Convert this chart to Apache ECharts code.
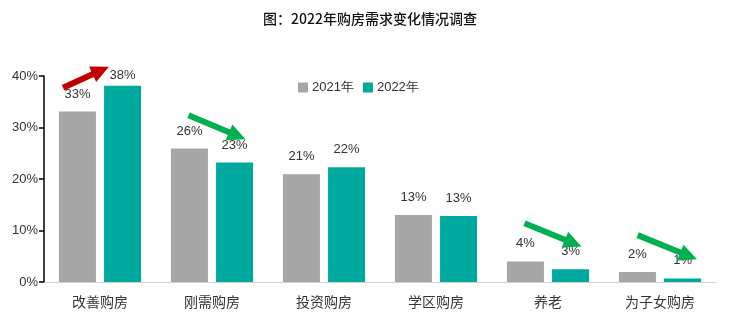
<!DOCTYPE html>
<html><head><meta charset="utf-8">
<script src="https://cdn.jsdelivr.net/npm/echarts@6/dist/echarts.min.js"></script>
<style>html,body{margin:0;padding:0;background:#fff}#c{width:740px;height:331px}</style>
</head><body><div id="c"></div>
<script>
const categories = ['改善购房','刚需购房','投资购房','学区购房','养老','为子女购房'];
const values2021 = [33.1, 25.9, 20.9, 13.0, 4.0, 1.95];
const values2022 = [38.1, 23.2, 22.3, 12.8, 2.5, 0.7];
const yTicks = [0, 10, 20, 30, 40];
const seriesNames = ['2021年', '2022年'];
// arrows: [fromCategoryPosition, fromValue, toCategoryPosition, toValue, colour]
const arrows = [
  [-0.33, 37.7, 0.08, 41.8, '#C00000'],
  [0.79, 32.4, 1.30, 27.7, '#00B050'],
  [3.79, 11.4, 4.30, 6.9, '#00B050'],
  [4.80, 9.1, 5.33, 4.4, '#00B050']
];

const chart = echarts.init(document.getElementById('c'));
const numFont = 'Liberation Sans, Arial, sans-serif';
function mkData(arr){
  return arr.map((v,i)=> (v === 38.1) ? {value:v, label:{distance:4}} : v);
}
const labelCfg = {show:true, position:'top', distance:11, color:'#333', fontSize:13, fontFamily:numFont,
  formatter: p => Math.round(p.value) + '%'};
chart.setOption({
  animation:false,
  title:{text:'图：2022年购房需求变化情况调查', left:'center', top:7,
    textStyle:{fontSize:14, fontWeight:500, color:'#111', fontFamily:'Noto Sans CJK SC, sans-serif'}},
  legend:{left:293, top:76, itemWidth:10, itemHeight:10, itemGap:9, icon:'rect',
    textStyle:{fontSize:13, color:'#333', fontFamily:numFont, padding:[0,0,0,-1]},
    data:seriesNames},
  grid:{left:44, right:24, top:76, bottom:49},
  xAxis:{type:'category', data:categories,
    axisLine:{lineStyle:{color:'#d4d4d4', width:1}}, axisTick:{show:false},
    axisLabel:{color:'#333', fontSize:14, margin:13, fontFamily:'Noto Sans CJK SC, sans-serif'}},
  yAxis:{type:'value', min:yTicks[0], max:yTicks[yTicks.length-1], interval:yTicks[1]-yTicks[0],
    splitLine:{show:false},
    axisLine:{show:true, lineStyle:{color:'#000', width:1.5}},
    axisTick:{show:true, length:5, lineStyle:{color:'#000', width:1.5}},
    axisLabel:{formatter:'{value}%', color:'#333', fontSize:13, margin:6, fontFamily:numFont}},
  series:[
    {name:seriesNames[0], type:'bar', data:mkData(values2021), barWidth:37, barGap:'22%',
     itemStyle:{color:'#A6A6A6'}, label:labelCfg},
    {name:seriesNames[1], type:'bar', data:mkData(values2022), barWidth:37,
     itemStyle:{color:'#00A99D'}, label:labelCfg}
  ]
});

function arrowPoly(p0, p1, shaft, headLen, headW){
  const dx=p1[0]-p0[0], dy=p1[1]-p0[1];
  const L=Math.sqrt(dx*dx+dy*dy); const ux=dx/L, uy=dy/L; const nx=-uy, ny=ux;
  const bx=p1[0]-ux*headLen, by=p1[1]-uy*headLen;
  const s=shaft/2, h=headW/2;
  return [
    [p0[0]+nx*s, p0[1]+ny*s], [bx+nx*s, by+ny*s], [bx+nx*h, by+ny*h], p1,
    [bx-nx*h, by-ny*h], [bx-nx*s, by-ny*s], [p0[0]-nx*s, p0[1]-ny*s]
  ];
}
const c0 = chart.convertToPixel({xAxisIndex:0}, 0);
const c1 = chart.convertToPixel({xAxisIndex:0}, 1);
const bw = c1 - c0;
function toPx(cat, val){
  return [c0 + cat*bw, chart.convertToPixel({yAxisIndex:0}, val)];
}
const g = arrows.map(a=>{
  const p0 = toPx(a[0], a[1]);
  const p1 = toPx(a[2], a[3]);
  return {type:'polygon', z:100, shape:{points:arrowPoly(p0,p1,6,18,17)}, style:{fill:a[4]}};
});
chart.setOption({graphic:g});
</script></body></html>
